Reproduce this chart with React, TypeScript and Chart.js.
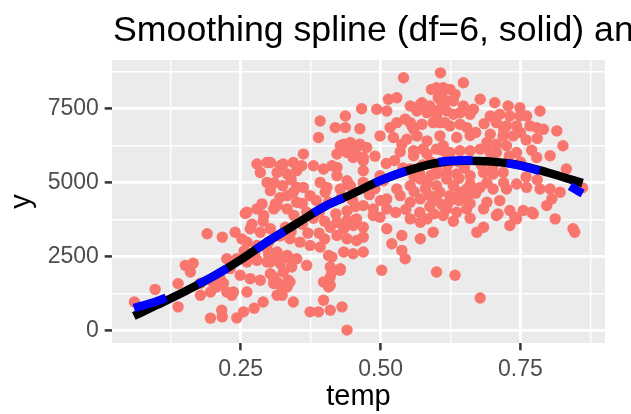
import React, { useEffect, useRef } from "react";
import { Chart, registerables } from "chart.js";

Chart.register(...registerables);

const TITLE = "Smoothing spline (df=6, solid) and natural spline (df=6, dashed)";
const X_LABEL = "temp";
const Y_LABEL = "y";

// Axis ticks (major labelled, minor unlabelled)
const xGridValues = [0.125, 0.25, 0.375, 0.5, 0.625, 0.75, 0.875];
const yGridValues = [0, 1250, 2500, 3750, 5000, 6250, 7500, 8750];
const xTickLabels = ["0.25", "0.50", "0.75"];
const yTickLabels = ["0", "2500", "5000", "7500"];

// Scatter points by region of the cloud
const tempA = [0.060,0.097,0.138,0.138,0.151,0.165,0.160,0.190,0.217,0.196,
  0.216,0.217,0.178,0.196,0.207,0.225,0.234,0.219,0.178,0.200,
  0.213,0.225,0.231,0.237];
const countA = [975,1400,1595,808,2210,2280,1985,3280,3165,427,
  697,470,1200,1312,1480,1312,1200,1605,1605,1650,
  1763,2436,2099,1312];

const tempB = [0.240,0.258,0.243,0.255,0.274,0.290,0.261,0.261,0.279,0.291,
  0.309,0.267,0.285,0.303,0.261,0.279,0.297,0.243,0.261,0.279,
  0.297,0.315,0.249,0.267,0.285,0.309,0.309,0.315,0.279,0.297,
  0.285,0.297,0.321,0.288,0.312,0.252,0.270,0.290,0.300,0.275,
  0.256,0.300];
const countB = [3330,3960,437,640,764,975,1312,4004,4119,3893,
  4119,3446,3331,3446,2995,2884,2773,2436,2322,2379,
  2322,2436,1874,1763,1706,1817,1595,1200,5633,5687,
  5350,5014,5576,4287,4287,3100,3600,3700,3000,2600,
  2700,2560];

const tempC = [0.440,0.431,0.410,0.389,0.374,0.398,0.344,0.324,0.321,0.315,
  0.335,0.333,0.398,0.407,0.410,0.413,0.410,0.413,0.428,0.303,
  0.309,0.303,0.321,0.338,0.341,0.368,0.326,0.338,0.315,0.333,
  0.350,0.368,0.338,0.356,0.374,0.392,0.315,0.333,0.350,0.410,
  0.434,0.451,0.469,0.407,0.428,0.410];
const countC = [24,808,697,640,640,1033,975,1200,1538,1650,
  1706,1480,1650,1480,1817,1985,2154,2490,2099,1930,
  1763,2322,2268,2436,2154,2210,1985,1650,4230,4119,
  4341,4004,3109,2995,2884,2828,2660,2547,2436,3500,
  3446,3557,3500,2547,2043,1538];

const tempD = [0.511,0.538,0.520,0.538,0.544,0.571,0.594,0.502,0.600,0.633,
  0.553,0.571,0.583,0.612,0.636,0.487,0.511,0.499,0.422,0.440,
  0.457,0.422,0.440,0.457,0.469,0.434,0.451,0.469,0.428,0.446,
  0.469,0.505,0.529,0.553,0.571,0.469,0.487,0.511,0.535,0.553,
  0.571,0.588,0.606,0.624,0.642,0.527,0.545,0.588,0.610];
const countD = [3446,3220,2941,2716,2436,3109,3331,2043,1985,1874,
  3782,3668,3782,3893,4004,3893,4119,3836,3668,3725,
  3782,3220,3109,3052,3165,2660,2604,2660,4790,4903,
  5014,5071,4790,4903,5128,4230,4119,4455,4566,4341,
  4455,4566,4678,4566,4678,4000,4100,4200,4250];

const tempE = [0.618,0.654,0.684,0.707,0.731,0.755,0.773,0.797,0.812,0.847,
  0.844,0.672,0.684,0.731,0.743,0.678,0.861,0.821,0.806,0.710,
  0.740,0.770];
const countE = [4119,4119,4119,3893,4062,4062,3950,4230,3782,3331,
  3446,3331,3500,3557,3782,1110,4830,4678,4455,3950,
  3836,4004];

const tempF = [0.648,0.612,0.624,0.633,0.606,0.618,0.630,0.678,0.704,0.728,
  0.749,0.785,0.648,0.666,0.642,0.660,0.618,0.630,0.696,0.713,
  0.731,0.749,0.761,0.707,0.725,0.743,0.767,0.779,0.791,0.815,
  0.606,0.624,0.642,0.654,0.606,0.636,0.696,0.719,0.737,0.690,
  0.707,0.725,0.826,0.743,0.779,0.803,0.832,0.606,0.624,0.642,
  0.660,0.678,0.696,0.707,0.618,0.636,0.660,0.684,0.701,0.719,
  0.743,0.761,0.785,0.803,0.630,0.654,0.678,0.701,0.725,0.630,
  0.654,0.690,0.713,0.670,0.685,0.660,0.720,0.750,0.760,0.780,
  0.770,0.730,0.750,0.680,0.650,0.620,0.700,0.720,0.690,0.660,
  0.760,0.780];
const countF = [8379,8210,8156,7988,7820,7763,7763,7820,7706,7595,
  7538,7427,7595,7484,7370,7315,7427,7315,7258,7315,
  7258,7258,7258,7033,6922,6922,6922,6865,6811,6754,
  7033,6922,6978,6865,6585,6528,6642,6585,6585,6360,
  6306,6249,6249,6023,5855,5912,5465,6138,6023,6081,
  6081,6138,6023,6023,5350,5297,5240,5350,5297,5350,
  4960,4846,4790,4790,4903,4790,4846,4790,4790,4455,
  4455,4341,4398,6700,7000,6600,6800,6700,6450,6500,
  6100,5900,5700,5600,5500,5600,5500,5000,5000,4950,
  5200,5100];

const tempG = [0.541,0.607,0.600,0.603,0.514,0.529,0.466,0.493,0.511,0.392,
  0.437,0.419,0.437,0.463,0.389,0.428,0.446,0.463,0.475,0.440,
  0.457,0.469,0.499,0.517,0.529,0.362,0.326,0.344,0.380,0.398,
  0.413,0.303,0.315,0.333,0.350,0.359,0.392,0.404,0.422,0.440,
  0.469,0.553,0.570,0.583,0.600,0.618,0.559,0.576,0.600,0.612,
  0.547,0.565,0.559,0.553,0.544,0.565,0.583,0.588,0.574,0.609,
  0.606,0.615,0.594,0.523,0.538,0.303,0.333,0.344,0.362,0.374,
  0.401,0.407,0.553,0.571,0.588,0.600,0.556,0.574,0.583,0.559,
  0.583,0.612,0.434,0.457,0.422,0.451,0.469,0.422,0.591,0.499,
  0.510,0.525,0.540,0.490,0.535,0.575,0.590,0.600,0.620,0.640,
  0.590,0.560,0.640,0.600,0.560,0.580,0.600,0.620,0.640,0.660,
  0.670,0.570,0.595,0.630,0.660,0.430,0.450,0.480,0.490,0.455,
  0.440,0.500,0.360,0.380,0.390,0.400,0.370,0.390,0.360,0.385,
  0.345,0.330,0.320,0.340,0.400,0.420,0.310,0.325,0.340,0.350,
  0.320];
const countG = [8547,8715,8210,7874,7820,7874,7504,7484,7427,7090,
  7258,6865,6865,6831,6528,6249,6360,6306,6192,6023,
  5912,5855,6585,6865,7033,5970,5633,5687,5576,5465,
  5576,5687,5350,5297,5408,5576,5014,4846,5240,5071,
  5408,5465,5297,5014,4903,5128,5912,6138,6138,6249,
  6474,6585,6811,7033,7147,7427,7370,7595,7706,7931,
  7484,7033,7033,6528,6306,4734,4566,4678,4846,4566,
  4678,4341,7595,7650,7427,7258,6922,6978,6417,6081,
  5970,6081,6306,6192,5970,5855,5743,5520,8156,5240,
  5650,5750,5500,5900,6050,5600,5700,5500,5800,5700,
  5250,5200,5150,5300,4700,4800,4400,4300,4400,4300,
  4650,4000,3950,3700,3800,4500,4400,4600,4800,4200,
  4050,4400,3600,3800,4000,3700,3300,3300,4300,4400,
  3900,3500,3200,3350,3100,3950,5000,4900,5100,4850,
  4500];

const tempValues = [...tempA, ...tempB, ...tempC, ...tempD, ...tempE, ...tempF, ...tempG];
const countValues = [...countA, ...countB, ...countC, ...countD, ...countE, ...countF, ...countG];

// Fitted curves
const curveTemp = [0.059, 0.1, 0.15, 0.2, 0.25, 0.3, 0.35, 0.4, 0.45, 0.5, 0.55, 0.6, 0.65, 0.7, 0.75, 0.8, 0.861];
const solidFit = [500, 870, 1330, 1830, 2400, 3040, 3620, 4200, 4630, 5080, 5420, 5670, 5745, 5715, 5590, 5340, 4990];
const dashedFit = [770, 1000, 1380, 1830, 2400, 3040, 3620, 4200, 4630, 5080, 5430, 5690, 5760, 5720, 5580, 5280, 4640];

const FONT = "'Liberation Sans', Arial, Helvetica, sans-serif";

const isMajorX = (v: number) => Math.abs(v * 4 - Math.round(v * 4)) < 1e-6;
const isMajorY = (v: number) => Math.abs(v / 2500 - Math.round(v / 2500)) < 1e-6;

export default function App() {
  const ref = useRef<HTMLCanvasElement>(null);

  useEffect(() => {
    const canvas = ref.current;
    if (!canvas) return;
    const points = tempValues.map((t, i) => ({ x: t, y: countValues[i] }));
    const solid = curveTemp.map((t, i) => ({ x: t, y: solidFit[i] }));
    const dashed = curveTemp.map((t, i) => ({ x: t, y: dashedFit[i] }));

    const panelBg = {
      id: "panelBg",
      beforeDraw(chart: any) {
        const { ctx, chartArea: a } = chart;
        ctx.save();
        ctx.fillStyle = "#EBEBEB";
        ctx.fillRect(a.left, a.top, a.right - a.left, a.bottom - a.top);
        ctx.restore();
      },
    };

    const texts = {
      id: "texts",
      afterDraw(chart: any) {
        const { ctx, chartArea: a } = chart;
        ctx.save();
        ctx.fillStyle = "#000000";
        ctx.font = `35.7px ${FONT}`;
        ctx.textAlign = "left";
        ctx.textBaseline = "alphabetic";
        ctx.fillText(TITLE, a.left + 1, 41);
        ctx.font = `29px ${FONT}`;
        ctx.textAlign = "center";
        ctx.fillText(X_LABEL, (a.left + a.right) / 2, 405);
        ctx.translate(22, (a.top + a.bottom) / 2);
        ctx.rotate(-Math.PI / 2);
        ctx.textBaseline = "middle";
        ctx.fillText(Y_LABEL, 0, 0);
        ctx.restore();
      },
    };

    const chart = new Chart(canvas, {
      type: "scatter",
      data: {
        datasets: [
          {
            type: "line",
            data: dashed,
            borderColor: "#0000FF",
            borderWidth: 8.5,
            borderDash: [34, 34],
            borderCapStyle: "butt",
            pointRadius: 0,
            cubicInterpolationMode: "monotone",
            fill: false,
            order: 0,
          } as any,
          {
            type: "line",
            data: solid,
            borderColor: "#000000",
            borderWidth: 8.5,
            borderCapStyle: "butt",
            pointRadius: 0,
            cubicInterpolationMode: "monotone",
            fill: false,
            order: 1,
          } as any,
          {
            type: "scatter",
            data: points,
            backgroundColor: "#F8766D",
            borderWidth: 0,
            pointRadius: 5.7,
            order: 2,
          } as any,
        ],
      },
      options: {
        responsive: false,
        animation: false,
        devicePixelRatio: 1,
        events: [],
        layout: { padding: { top: 60, right: 26, left: 0, bottom: 0 } },
        plugins: {
          legend: { display: false },
          tooltip: { enabled: false },
          title: { display: false },
        },
        scales: {
          x: {
            type: "linear",
            min: 0.0199,
            max: 0.9011,
            afterFit: (s: any) => { s.height = 71; },
            afterBuildTicks: (s: any) => { s.ticks = xGridValues.map((v) => ({ value: v })); },
            border: { display: false },
            grid: {
              color: "#FFFFFF",
              lineWidth: (c: any) => (isMajorX(c.tick?.value ?? 0) ? 2.8 : 1.4),
              drawTicks: true,
              tickLength: 7.3,
              tickColor: (c: any) => (isMajorX(c.tick?.value ?? 0) ? "#333333" : "rgba(0,0,0,0)"),
              tickWidth: 2.5,
            },
            ticks: {
              autoSkip: false,
              maxRotation: 0,
              padding: 5.8,
              color: "#4D4D4D",
              font: { family: FONT, size: 23 },
              callback: (v: any) => {
                const label = Number(v).toFixed(2);
                return isMajorX(Number(v)) && xTickLabels.includes(label) ? label : "";
              },
            },
          },
          y: {
            type: "linear",
            min: -412.6,
            max: 9148.6,
            afterFit: (s: any) => { s.width = 112; },
            afterBuildTicks: (s: any) => { s.ticks = yGridValues.map((v) => ({ value: v })); },
            border: { display: false },
            grid: {
              color: "#FFFFFF",
              lineWidth: (c: any) => (isMajorY(c.tick?.value ?? 1) ? 2.8 : 1.4),
              drawTicks: true,
              tickLength: 7.3,
              tickColor: (c: any) => (isMajorY(c.tick?.value ?? 1) ? "#333333" : "rgba(0,0,0,0)"),
              tickWidth: 2.5,
            },
            ticks: {
              autoSkip: false,
              padding: 5.8,
              color: "#4D4D4D",
              font: { family: FONT, size: 23 },
              callback: (v: any) => {
                const label = String(Number(v));
                return isMajorY(Number(v)) && yTickLabels.includes(label) ? label : "";
              },
            },
          },
        },
      } as any,
      plugins: [panelBg, texts],
    });

    return () => chart.destroy();
  }, []);

  return (
    <div style={{ position: "absolute", left: 0, top: 0, width: 631, height: 414, background: "#FFFFFF" }}>
      <canvas ref={ref} width={631} height={414} style={{ display: "block", width: 631, height: 414 }} />
    </div>
  );
}
